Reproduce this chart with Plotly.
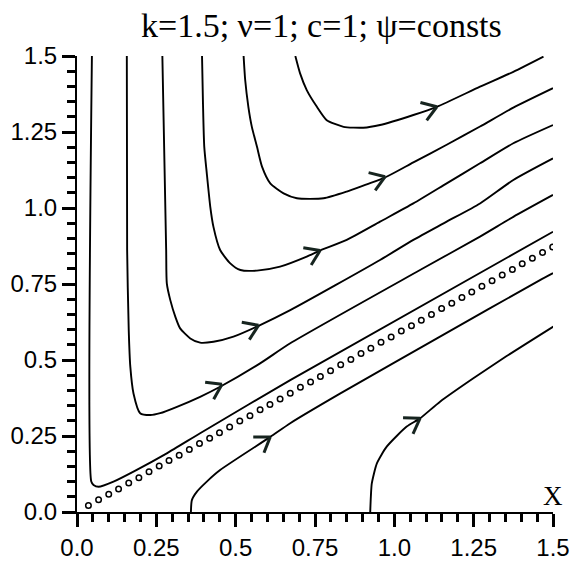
import numpy as np
import plotly.graph_objects as go

# ---------------- data ----------------
T1_x = [0.688, 0.703, 0.724, 0.756, 0.787, 0.840, 0.902, 0.955, 1.060, 1.134, 1.270, 1.375, 1.470]
T1_y = [1.500, 1.443, 1.388, 1.333, 1.289, 1.267, 1.264, 1.273, 1.306, 1.333, 1.399, 1.448, 1.498]

T2_x = [0.525, 0.530, 0.540, 0.551, 0.567, 0.583, 0.609, 0.651, 0.693, 0.777, 0.850, 0.913, 0.970,
        1.060, 1.165, 1.270, 1.375, 1.500]
T2_y = [1.500, 1.421, 1.333, 1.267, 1.202, 1.136, 1.081, 1.048, 1.032, 1.032, 1.054, 1.078, 1.100,
        1.150, 1.208, 1.268, 1.330, 1.394]

T3_x = [0.394, 0.397, 0.401, 0.409, 0.420, 0.430, 0.451, 0.483, 0.515, 0.567, 0.640, 0.724, 0.766,
        0.850, 0.955, 1.060, 1.165, 1.270, 1.375, 1.500]
T3_y = [1.500, 1.344, 1.202, 1.114, 1.004, 0.938, 0.862, 0.818, 0.796, 0.794, 0.807, 0.840, 0.860,
        0.895, 0.955, 1.015, 1.081, 1.147, 1.213, 1.273]

T4_x = [0.269, 0.281, 0.283, 0.294, 0.310, 0.325, 0.357, 0.388, 0.430, 0.493, 0.577, 0.672, 0.955,
        1.060, 1.165, 1.270, 1.375, 1.500]
T4_y = [1.500, 0.862, 0.752, 0.697, 0.642, 0.604, 0.571, 0.557, 0.560, 0.577, 0.615, 0.664, 0.829,
        0.895, 0.955, 1.015, 1.092, 1.163]

T5_x = [0.157, 0.158, 0.163, 0.168, 0.178, 0.199, 0.231, 0.262, 0.315, 0.388, 0.451, 0.577, 0.672,
        1.081, 1.270, 1.375, 1.500]
T5_y = [1.500, 0.862, 0.599, 0.478, 0.390, 0.325, 0.319, 0.325, 0.346, 0.379, 0.412, 0.489, 0.555,
        0.796, 0.906, 0.971, 1.043]

T6_x = [0.047, 0.045, 0.052, 0.068, 0.115, 0.178, 0.283, 0.388, 0.672, 1.500]
T6_y = [1.500, 0.100, 0.089, 0.083, 0.100, 0.133, 0.193, 0.259, 0.434, 0.922]

B1_x = [0.359, 0.362, 0.378, 0.409, 0.451, 0.609, 0.672, 0.830, 1.144, 1.459, 1.500]
B1_y = [0.000, 0.039, 0.067, 0.100, 0.138, 0.247, 0.292, 0.390, 0.577, 0.763, 0.786]

B2_x = [0.924, 0.926, 0.929, 0.945, 0.976, 1.039, 1.081, 1.144, 1.249, 1.354, 1.501]
B2_y = [0.000, 0.050, 0.094, 0.160, 0.215, 0.281, 0.308, 0.363, 0.440, 0.513, 0.610]

# separatrix (dotted line of small open circles)
dots_x = [0.036, 0.068, 0.100, 0.131, 0.163, 0.195, 0.227, 0.259, 0.290, 0.322, 0.354, 0.386,
          0.418, 0.449, 0.481, 0.513, 0.545, 0.577, 0.608, 0.640, 0.672, 0.704, 0.736, 0.767,
          0.799, 0.831, 0.863, 0.895, 0.926, 0.958, 0.990, 1.022, 1.054, 1.085, 1.117, 1.149,
          1.181, 1.213, 1.244, 1.276, 1.308, 1.340, 1.372, 1.403, 1.435, 1.467, 1.499]
dots_y = [0.021, 0.040, 0.058, 0.076, 0.095, 0.113, 0.132, 0.151, 0.169, 0.187, 0.206, 0.225,
          0.243, 0.261, 0.280, 0.299, 0.317, 0.336, 0.354, 0.372, 0.391, 0.410, 0.428, 0.446,
          0.465, 0.484, 0.502, 0.521, 0.539, 0.558, 0.576, 0.595, 0.613, 0.631, 0.650, 0.669,
          0.687, 0.706, 0.724, 0.743, 0.761, 0.780, 0.798, 0.817, 0.835, 0.854, 0.872]

# arrow tips on the streamlines (curve name, x, y)
arrow_curve = ["T1", "T2", "T3", "T4", "T5", "B1", "B2"]
arrow_x = [1.134, 0.971, 0.766, 0.572, 0.457, 0.609, 1.081]
arrow_y = [1.333, 1.103, 0.860, 0.614, 0.420, 0.247, 0.308]

major_step = 0.25
minor_step = 0.05
tick_alias = {"0": "0.0", "1": "1.0"}

title_text = "k=1.5; \u03bd=1; c=1; \u03c8=consts"

# ---------------- figure ----------------
W, H = 571, 562
ML, MR, MT, MB = 77, 18, 56, 50
XR = [0, 1.5]
YR = [0, 1.5]
sx = (W - ML - MR) / (XR[1] - XR[0])   # px per unit
sy = (H - MT - MB) / (YR[1] - YR[0])

curves = {"T1": (T1_x, T1_y), "T2": (T2_x, T2_y), "T3": (T3_x, T3_y),
          "T4": (T4_x, T4_y), "T5": (T5_x, T5_y), "T6": (T6_x, T6_y),
          "B1": (B1_x, B1_y), "B2": (B2_x, B2_y)}

fig = go.Figure()
for name, (cx, cy) in curves.items():
    fig.add_trace(go.Scatter(x=cx, y=cy, mode="lines", name=name,
                             line=dict(color="black", width=1.9, shape="spline", smoothing=0.6),
                             hoverinfo="skip", showlegend=False))

fig.add_trace(go.Scatter(x=dots_x, y=dots_y, mode="markers", showlegend=False,
                         marker=dict(symbol="circle-open", size=5.5, color="black",
                                     line=dict(color="black", width=1.5)),
                         hoverinfo="skip"))

# arrowheads (open chevrons) computed from the curve direction at each tip
ax_pts, ay_pts = [], []
L = 17.0
half = np.deg2rad(34)
for cname, tx, ty in zip(arrow_curve, arrow_x, arrow_y):
    cx = np.array(curves[cname][0]) * sx
    cy = np.array(curves[cname][1]) * sy
    px, py = tx * sx, ty * sy
    best, bd = 0, 1e18
    for i in range(len(cx) - 1):
        mx, my = (cx[i] + cx[i + 1]) / 2, (cy[i] + cy[i + 1]) / 2
        d = (mx - px) ** 2 + (my - py) ** 2
        if d < bd:
            bd, best = d, i
    dx, dy = cx[best + 1] - cx[best], cy[best + 1] - cy[best]
    n = np.hypot(dx, dy)
    rx, ry = -dx / n, -dy / n
    for s in (half, -half):
        ex = rx * np.cos(s) - ry * np.sin(s)
        ey = rx * np.sin(s) + ry * np.cos(s)
        ax_pts += [tx + L * ex / sx, tx, None]
        ay_pts += [ty + L * ey / sy, ty, None]

fig.add_trace(go.Scatter(x=ax_pts, y=ay_pts, mode="lines", showlegend=False,
                         line=dict(color="#16241f", width=3), hoverinfo="skip"))

axis_common = dict(
    showgrid=False, zeroline=False, showline=True, linecolor="black", linewidth=2,
    ticks="outside", ticklen=13, tickwidth=2.5, tickcolor="black",
    tickmode="linear", tick0=0, dtick=major_step, labelalias=tick_alias,
    tickfont=dict(family="Liberation Sans, Arial, sans-serif", size=24, color="black"),
    minor=dict(ticks="outside", ticklen=8, tickwidth=2.5, tickcolor="black", dtick=minor_step),
    automargin=False,
)

fig.update_layout(
    template="none",
    width=W, height=H,
    margin=dict(l=ML, r=MR, t=MT, b=MB, pad=0),
    paper_bgcolor="white", plot_bgcolor="white",
    xaxis=dict(range=XR, **axis_common),
    yaxis=dict(range=YR, **axis_common),
    showlegend=False,
)

fig.add_annotation(text=title_text, xref="paper", yref="paper",
                   x=(321 - ML) / (W - ML - MR), y=1 + (MT - 25) / (H - MT - MB),
                   xanchor="center", yanchor="middle", showarrow=False,
                   font=dict(family="Liberation Serif, Times New Roman, serif", size=34, color="black"))

fig.add_annotation(text="X", xref="x", yref="y", x=1.5, y=0.053,
                   xanchor="center", yanchor="middle", showarrow=False,
                   font=dict(family="Liberation Serif, Times New Roman, serif", size=27, color="black"))

fig.write_html("out.html")
